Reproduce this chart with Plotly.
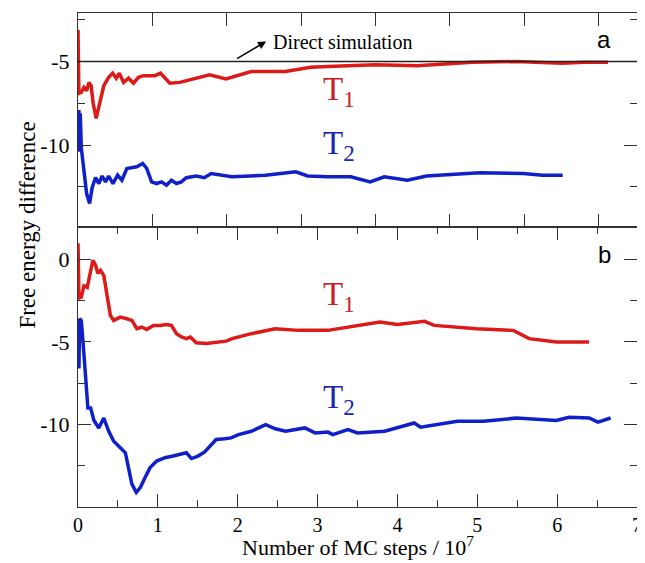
import plotly.graph_objects as go

# Panel a (x axis in panel-a units, 0..7.5)
a_t1_x = [0.0, 0.005, 0.012, 0.044, 0.08, 0.116, 0.147, 0.177, 0.204, 0.244, 0.28, 0.347, 0.413,
          0.467, 0.516, 0.556, 0.613, 0.68, 0.747, 0.813, 0.88, 0.97, 1.036, 1.11, 1.17, 1.236,
          1.37, 1.50, 1.636, 1.77, 1.99, 2.33, 2.79, 3.13, 3.36, 3.67, 4.0, 4.56, 5.0, 5.3, 5.89,
          6.2, 6.52, 6.8, 7.13]
a_t1_y = [-3.1, -5.0, -6.9, -6.85, -6.55, -6.75, -6.25, -6.45, -7.5, -8.4, -7.75, -6.45, -5.95,
          -5.7, -6.0, -5.7, -6.25, -6.0, -6.3, -5.95, -5.85, -5.85, -5.85, -5.7, -6.0, -6.3,
          -6.25, -6.1, -5.95, -5.8, -6.05, -5.6, -5.6, -5.35, -5.3, -5.25, -5.2, -5.25, -5.1, -5.05,
          -5.0, -5.05, -5.1, -5.05, -5.05]

a_t2_x = [0.005, 0.012, 0.02, 0.03, 0.045, 0.08, 0.116, 0.156, 0.19, 0.236, 0.28, 0.324, 0.37,
          0.413, 0.47, 0.533, 0.59, 0.657, 0.724, 0.79, 0.87, 0.924, 0.99, 1.057, 1.124, 1.19,
          1.257, 1.324, 1.39, 1.457, 1.59, 1.70, 1.79, 2.07, 2.52, 2.93, 3.09, 3.36, 3.67, 3.93,
          4.12, 4.43, 4.69, 5.0, 5.4, 5.99, 6.25, 6.52]
a_t2_y = [-10.4, -7.9, -10.3, -8.1, -10.2, -11.35, -12.9, -13.5, -12.55, -11.95, -12.3, -11.85, -12.2,
          -11.85, -12.3, -11.8, -12.1, -11.4, -11.35, -11.3, -11.1, -11.4, -12.2, -12.3, -12.2, -12.4,
          -12.1, -12.3, -12.2, -11.95, -11.85, -11.95, -11.7, -11.9, -11.8, -11.6, -11.85, -11.9, -11.9, -12.2,
          -11.9, -12.1, -11.85, -11.75, -11.65, -11.7, -11.8, -11.8]

# Panel b (x axis: number of MC steps / 10^7)
b_t1_x = [0.0, 0.012, 0.041, 0.075, 0.116, 0.149, 0.186, 0.22, 0.248, 0.282, 0.323, 0.364, 0.406,
          0.447, 0.53, 0.612, 0.675, 0.737, 0.80, 0.86, 0.944, 1.027, 1.11, 1.17, 1.234, 1.296,
          1.358, 1.407, 1.48, 1.606, 1.73, 1.855, 1.93, 2.17, 2.47, 2.76, 3.13, 3.50, 3.78, 4.0,
          4.34, 4.46, 4.99, 5.45, 5.65, 5.99, 6.40]
b_t1_y = [0.97, -2.35, -2.3, -1.6, -1.7, -0.97, -0.06, -0.36, -0.85, -0.67, -0.97, -2.2, -3.4,
          -3.7, -3.5, -3.6, -3.7, -4.2, -4.1, -4.25, -4.0, -4.0, -3.95, -4.0, -4.5, -4.7,
          -4.8, -4.7, -5.05, -5.1, -5.05, -4.95, -4.8, -4.5, -4.2, -4.3, -4.3, -4.0, -3.8, -3.95,
          -3.75, -4.0, -4.2, -4.3, -4.8, -5.0, -5.0]

b_t2_x = [0.005, 0.012, 0.02, 0.041, 0.066, 0.096, 0.124, 0.158, 0.2, 0.26, 0.323, 0.385, 0.447,
          0.53, 0.593, 0.634, 0.675, 0.73, 0.78, 0.84, 0.903, 0.985, 1.09, 1.19, 1.276, 1.358,
          1.42, 1.503, 1.586, 1.65, 1.73, 1.835, 1.917, 2.01, 2.17, 2.35, 2.47, 2.60, 2.84, 2.97,
          3.13, 3.19, 3.38, 3.50, 3.84, 4.21, 4.29, 4.75, 5.08, 5.49, 5.99, 6.15, 6.40, 6.51, 6.67]
b_t2_y = [-5.0, -6.6, -3.6, -3.7, -5.2, -7.0, -9.0, -9.0, -9.75, -10.2, -9.6, -10.4, -11.0,
          -11.4, -11.7, -12.65, -13.6, -14.1, -13.8, -13.2, -12.6, -12.2, -12.0, -11.9, -11.8, -11.7,
          -12.05, -11.9, -11.65, -11.3, -10.9, -10.85, -10.8, -10.6, -10.4, -10.0, -10.25, -10.4, -10.2, -10.5,
          -10.45, -10.6, -10.3, -10.5, -10.4, -9.9, -10.15, -9.8, -9.8, -9.6, -9.75, -9.55, -9.6, -9.85, -9.6]

x_ticks = [0, 1, 2, 3, 4, 5, 6, 7]
x_ticktext = ["0", "1", "2", "3", "4", "5", "6", "7"]
ya_ticks = [-5, -10]
ya_ticktext = ["-5", "-10"]
yb_ticks = [0, -5, -10]
yb_ticktext = ["0", "-5", "-10"]

RED = "#dc1a1a"
BLUE = "#1020c8"
SERIF = "Liberation Serif"
FRAME = "#333333"

fig = go.Figure()
fig.add_trace(go.Scatter(x=a_t1_x, y=a_t1_y, mode="lines", line=dict(color=RED, width=3.5),
                         xaxis="x2", yaxis="y2", showlegend=False))
fig.add_trace(go.Scatter(x=a_t2_x, y=a_t2_y, mode="lines", line=dict(color=BLUE, width=3.5),
                         xaxis="x2", yaxis="y2", showlegend=False))
fig.add_trace(go.Scatter(x=b_t1_x, y=b_t1_y, mode="lines", line=dict(color=RED, width=3.5),
                         xaxis="x", yaxis="y", showlegend=False))
fig.add_trace(go.Scatter(x=b_t2_x, y=b_t2_y, mode="lines", line=dict(color=BLUE, width=3.5),
                         xaxis="x", yaxis="y", showlegend=False))

split = 0.5668
axcommon = dict(showline=True, linecolor=FRAME, linewidth=1.2, mirror="allticks",
                ticks="inside", ticklen=13, tickwidth=1.3, tickcolor=FRAME,
                showgrid=False, zeroline=False)
minor_style = dict(ticklen=7, ticks="inside", tickcolor=FRAME, tickwidth=1.3)
xtickfont = dict(family=SERIF, size=20, color="black")
ytickfont = dict(family=SERIF, size=22, color="black")

fig.update_layout(
    width=637, height=555,
    margin=dict(l=70, r=3, t=5, b=56),
    plot_bgcolor="white", paper_bgcolor="white",
    xaxis=dict(domain=[0, 1], anchor="y", range=[0, 7], tickmode="array", tickvals=x_ticks,
               ticktext=x_ticktext, tickfont=xtickfont, ticklabeloverflow="allow",
               minor=dict(dtick=0.5, tick0=0, **minor_style),
               **axcommon),
    yaxis=dict(domain=[0, split], anchor="x", range=[-14.98, 1.95], tickmode="array",
               tickvals=yb_ticks, ticktext=yb_ticktext, tickfont=ytickfont, ticklabelstandoff=3,
               minor=dict(dtick=2.5, tick0=0, **minor_style),
               **axcommon),
    xaxis2=dict(domain=[0, 1], anchor="y2", range=[0, 7.52], dtick=1, tick0=0,
                showticklabels=False, **axcommon),
    yaxis2=dict(domain=[split, 1], anchor="x2", range=[-14.9, -2.1], tickmode="array",
                tickvals=ya_ticks, ticktext=ya_ticktext, tickfont=ytickfont, ticklabelstandoff=3,
                minor=dict(dtick=2.5, tick0=0, **minor_style),
                **axcommon),
)

# Axis titles as paper annotations
fig.add_annotation(text="Free energy difference", xref="paper", yref="paper",
                   x=-0.09, y=0.571, xanchor="center", yanchor="middle",
                   textangle=-90, showarrow=False,
                   font=dict(family=SERIF, size=23, color="black"))
fig.add_annotation(text="Number of MC steps / 10<sup>7</sup>", xref="paper", yref="paper",
                   x=0.5, y=-0.079, xanchor="center", yanchor="middle", showarrow=False,
                   font=dict(family=SERIF, size=22, color="black"))

# Direct simulation reference line
fig.add_shape(type="line", xref="x2 domain", yref="y2", x0=0, x1=1, y0=-5, y1=-5,
              line=dict(color="#222222", width=1.5))
fig.add_annotation(xref="x2", yref="y2", x=2.53, y=-3.8, ax=2.12, ay=-4.88,
                   axref="x2", ayref="y2", text="", showarrow=True, arrowhead=2,
                   arrowsize=1, arrowwidth=1.6, arrowcolor="black")
fig.add_annotation(xref="x2", yref="y2", x=2.6, y=-3.86, xanchor="left", yanchor="middle",
                   text="Direct simulation", showarrow=False,
                   font=dict(family=SERIF, size=20, color="black"))

# Panel letters
fig.add_annotation(xref="paper", yref="y2", x=0.941, y=-3.7, text="a", showarrow=False,
                   xanchor="center", yanchor="middle", font=dict(family="Liberation Sans", size=24, color="black"))
fig.add_annotation(xref="paper", yref="y", x=0.941, y=0.3, text="b", showarrow=False,
                   xanchor="center", yanchor="middle", font=dict(family="Liberation Sans", size=24, color="black"))

# Series labels
lab_font_r = dict(family=SERIF, size=33, color="#cc1c24")
lab_font_b = dict(family=SERIF, size=33, color="#1a26b0")
fig.add_annotation(xref="x2", yref="y2", x=3.27, y=-6.8, text="T<sub>1</sub>", showarrow=False,
                   xanchor="left", yanchor="middle", font=lab_font_r)
fig.add_annotation(xref="x2", yref="y2", x=3.27, y=-10.05, text="T<sub>2</sub>", showarrow=False,
                   xanchor="left", yanchor="middle", font=lab_font_b)
fig.add_annotation(xref="x", yref="y", x=3.04, y=-2.25, text="T<sub>1</sub>", showarrow=False,
                   xanchor="left", yanchor="middle", font=lab_font_r)
fig.add_annotation(xref="x", yref="y", x=3.04, y=-8.5, text="T<sub>2</sub>", showarrow=False,
                   xanchor="left", yanchor="middle", font=lab_font_b)

fig.write_html("out.html")
